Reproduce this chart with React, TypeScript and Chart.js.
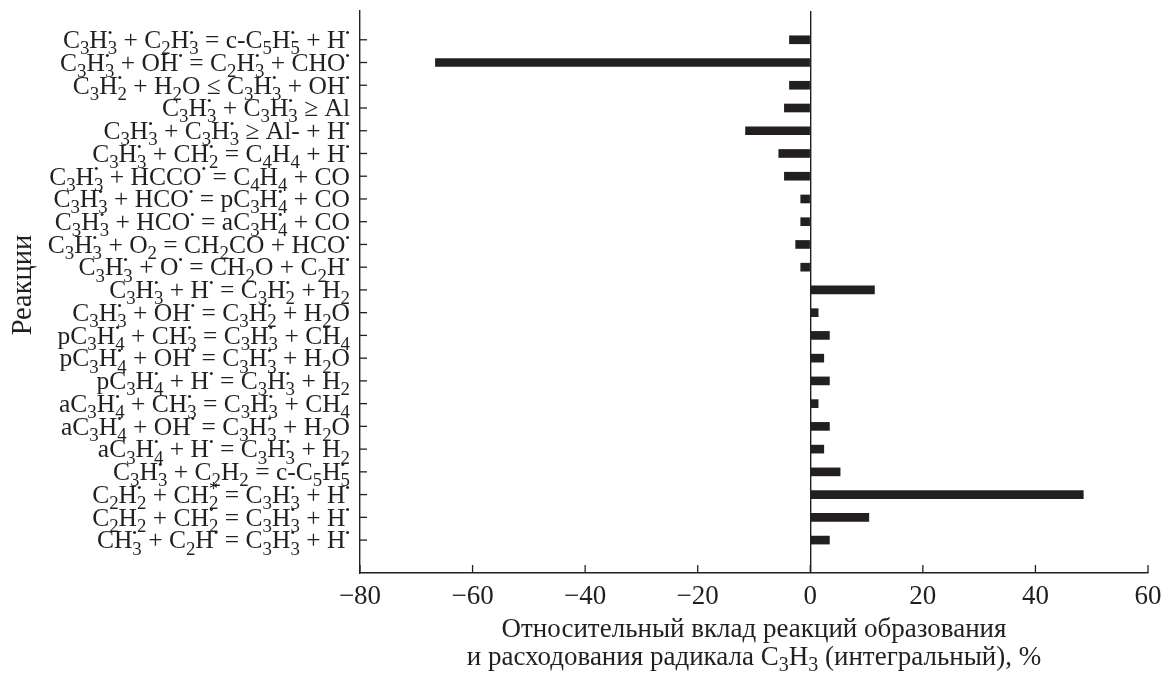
import React, { useEffect, useRef } from 'react';
import { Chart, registerables } from 'chart.js';

Chart.register(...registerables);

const INK = '#231f20';
const FONT = '"Liberation Serif", "Times New Roman", serif';

// Reactions from top to bottom; "_x" = subscript, "^x" = superscript
const reactions: string[] = [
  'C_3H_3^• + C_2H_3^• = c-C_5H_5^• + H^•',
  'C_3H_3^• + OH^• = C_2H_3^• + CHO^•',
  'C_3H_2^• + H_2O ≤ C_3H_3^• + OH^•',
  'C_3H_3^• + C_3H_3^• ≥ Al',
  'C_3H_3^• + C_3H_3^• ≥ Al- + H^•',
  'C_3H_3^• + CH_2^• = C_4H_4 + H^•',
  'C_3H_3^• + HCCO^• = C_4H_4 + CO',
  'C_3H_3^• + HCO^• = pC_3H_4^• + CO',
  'C_3H_3^• + HCO^• = aC_3H_4^• + CO',
  'C_3H_3^• + O_2 = CH_2CO + HCO^•',
  'C_3H_3^• + O^• = CH_2O + C_2H^•',
  'C_3H_3^• + H^• = C_3H_2^• + H_2',
  'C_3H_3^• + OH^• = C_3H_2^• + H_2O',
  'pC_3H_4^• + CH_3^• = C_3H_3^• + CH_4',
  'pC_3H_4^• + OH^• = C_3H_3^• + H_2O',
  'pC_3H_4^• + H^• = C_3H_3^• + H_2',
  'aC_3H_4^• + CH_3^• = C_3H_3^• + CH_4',
  'aC_3H_4^• + OH^• = C_3H_3^• + H_2O',
  'aC_3H_4^• + H^• = C_3H_3^• + H_2',
  'C_3H_3^• + C_2H_2 = c-C_5H_5^•',
  'C_2H_2^• + CH_2^* = C_3H_3^• + H^•',
  'C_2H_2 + CH_2^• = C_3H_3^• + H^•',
  'CH_3^• + C_2H^• = C_3H_3^• + H^•',
];

// Relative contribution, %
const contributions: number[] = [
  -3.7, -66.6, -3.7, -4.6, -11.5, -5.6, -4.6, -1.7, -1.7, -2.6, -1.7,
  11.4, 1.4, 3.4, 2.4, 3.4, 1.4, 3.4, 2.4, 5.3, 48.5, 10.4, 3.4,
];

const xTicks: number[] = [-80, -60, -40, -20, 0, 20, 40, 60];

const xTitleLines: string[] = [
  'Относительный вклад реакций образования',
  'и расходования радикала C_3H_3 (интегральный), %',
];
const yTitle = 'Реакции';

type Seg = { t: string; k: 'n' | 'sub' | 'sup' };

function parseRich(s: string): Seg[] {
  const out: Seg[] = [];
  for (let i = 0; i < s.length; i++) {
    const c = s[i];
    if ((c === '_' || c === '^') && i + 1 < s.length) {
      out.push({ t: s[i + 1], k: c === '_' ? 'sub' : 'sup' });
      i++;
    } else {
      const last = out[out.length - 1];
      if (last && last.k === 'n') last.t += c;
      else out.push({ t: c, k: 'n' });
    }
  }
  return out;
}

function drawRich(
  ctx: CanvasRenderingContext2D,
  s: string,
  x: number,
  baseline: number,
  size: number,
  align: 'left' | 'right' | 'center'
) {
  const segs = parseRich(s);
  const fN = `${size}px ${FONT}`;
  const fSub = `${size * 0.74}px ${FONT}`;
  const fDot = `${size * 0.52}px ${FONT}`;
  const fStar = `${size * 0.7}px ${FONT}`;
  const items: { t: string; f: string; x: number; dy: number }[] = [];
  let cx = 0;
  let i = 0;
  while (i < segs.length) {
    const g = segs[i];
    if (g.k === 'n') {
      ctx.font = fN;
      items.push({ t: g.t, f: fN, x: cx, dy: 0 });
      cx += ctx.measureText(g.t).width;
      i++;
      continue;
    }
    let w = 0;
    while (i < segs.length && segs[i].k !== 'n') {
      const h = segs[i];
      let f: string;
      let dy: number;
      if (h.k === 'sub') {
        f = fSub;
        dy = size * 0.24;
      } else if (h.t === '•') {
        f = fDot;
        dy = -size * 0.44;
      } else {
        f = fStar;
        dy = -size * 0.3;
      }
      ctx.font = f;
      const gw = ctx.measureText(h.t).width;
      items.push({ t: h.t, f, x: cx, dy });
      w = Math.max(w, gw);
      i++;
    }
    cx += w;
  }
  const total = cx;
  const x0 = align === 'left' ? x : align === 'right' ? x - total : x - total / 2;
  ctx.textAlign = 'left';
  ctx.textBaseline = 'alphabetic';
  for (const it of items) {
    ctx.font = it.f;
    ctx.fillText(it.t, x0 + it.x, baseline + it.dy);
  }
}

const decorPlugin = {
  id: 'decor',
  afterDraw(chart: any) {
    const { ctx, chartArea: ca } = chart;
    const xs = chart.scales.x;
    const ys = chart.scales.y;
    ctx.save();
    ctx.strokeStyle = INK;
    ctx.fillStyle = INK;
    ctx.lineWidth = 1.3;
    // inner tick marks
    xTicks.forEach((v) => {
      const px = xs.getPixelForValue(v);
      ctx.beginPath();
      ctx.moveTo(px, ca.bottom);
      ctx.lineTo(px, ca.bottom - 8);
      ctx.stroke();
    });
    reactions.forEach((_, i) => {
      const py = ys.getPixelForValue(i);
      ctx.beginPath();
      ctx.moveTo(ca.left, py);
      ctx.lineTo(ca.left + 7, py);
      ctx.stroke();
    });
    // category labels
    reactions.forEach((r, i) => {
      const py = ys.getPixelForValue(i);
      drawRich(ctx, r, ca.left - 10, py + 8.3, 25.5, 'right');
    });
    // x title, centred on the plot area
    const cx = (ca.left + ca.right) / 2;
    drawRich(ctx, xTitleLines[0], cx, 637, 27, 'center');
    drawRich(ctx, xTitleLines[1], cx, 665, 27, 'center');
    // y title
    ctx.translate(22, 285);
    ctx.rotate(-Math.PI / 2);
    drawRich(ctx, yTitle, 0, 9, 28.5, 'center');
    ctx.restore();
  },
};

export default function App() {
  const ref = useRef<HTMLCanvasElement>(null);
  useEffect(() => {
    if (!ref.current) return;
    const chart = new Chart(ref.current, {
      type: 'bar',
      data: {
        datasets: [
          {
            data: contributions.map((v, i) => ({ x: v, y: i })),
            backgroundColor: INK,
            borderWidth: 0,
            barThickness: 8,
          },
        ],
      },
      options: {
        indexAxis: 'y',
        responsive: false,
        animation: false,
        devicePixelRatio: 1,
        layout: { padding: { top: 11, right: 15, left: 0, bottom: 0 } },
        plugins: { legend: { display: false }, tooltip: { enabled: false } },
        scales: {
          x: {
            type: 'linear',
            min: -80,
            max: 60,
            afterBuildTicks: (s: any) => {
              s.ticks = xTicks.map((v) => ({ value: v }));
            },
            afterFit: (s: any) => {
              s.height = 101;
              s.paddingLeft = 0;
              s.paddingRight = 0;
            },
            ticks: {
              color: INK,
              font: { family: FONT, size: 27 },
              padding: 8,
              maxRotation: 0,
              autoSkip: false,
              callback: (v: any) => (Number(v) < 0 ? '\u2212' + Math.abs(Number(v)) : String(v)),
            },
            grid: {
              display: true,
              drawTicks: false,
              color: (c: any) => (c.tick && c.tick.value === 0 ? INK : 'rgba(0,0,0,0)'),
              lineWidth: 1.4,
            },
            border: { display: true, color: INK, width: 1.4 },
          },
          y: {
            type: 'linear',
            reverse: true,
            min: -0.728,
            max: 22.91,
            afterBuildTicks: (s: any) => {
              s.ticks = reactions.map((_, i) => ({ value: i }));
            },
            afterFit: (s: any) => {
              s.width = 360;
              s.paddingTop = 0;
              s.paddingBottom = 0;
            },
            ticks: { display: false },
            grid: { display: true, drawOnChartArea: false, drawTicks: false },
            border: { display: true, color: INK, width: 1.4 },
          },
        },
      },
      plugins: [decorPlugin],
    } as any);
    return () => chart.destroy();
  }, []);
  return (
    <canvas
      ref={ref}
      width={1163}
      height={674}
      style={{ position: 'absolute', left: 0, top: 0, width: 1163, height: 674 }}
    />
  );
}
